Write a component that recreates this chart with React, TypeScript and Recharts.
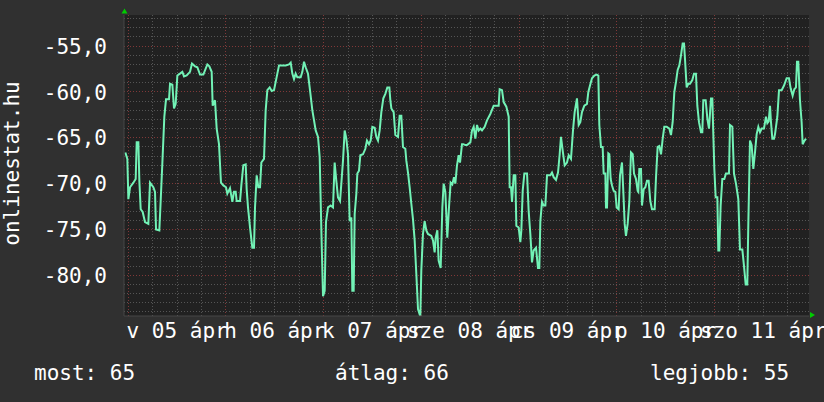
import { LineChart, Line, XAxis, YAxis, CartesianGrid, ReferenceLine } from 'recharts';

// hours since 05 ápr 00:00, signal level (dBm)
const hours = [
  -0.73, -0.24, 0.01, 0.42, 1.24, 1.81, 2.06, 2.47, 2.71, 3.04, 3.53, 4.1, 4.92, 5.33, 6.15, 6.56, 6.81, 7.62, 7.95, 8.36,
  8.85, 9.26, 10.0, 10.25, 10.82, 11.23, 11.64, 12.05, 12.7, 13.28, 13.69, 14.34, 15.16, 15.65, 16.39, 16.96, 17.62, 18.44,
  19.42, 19.91, 20.48, 20.73, 21.3, 21.71, 22.28, 22.77, 23.35, 24.0, 24.33, 24.99, 25.56, 25.97, 26.38, 26.62, 27.45,
  27.77, 28.26, 28.84, 29.08, 29.41, 29.91, 30.47, 30.88, 31.13, 31.54, 31.95, 32.36, 32.69, 33.34, 33.75, 34.16, 34.73,
  35.23, 35.8, 36.21, 36.62, 37.03, 37.85, 38.67, 39.49, 39.9, 40.3, 40.71, 41.12, 41.53, 42.35, 42.76, 43.17, 43.58,
  44.15, 44.64, 45.22, 45.63, 46.04, 46.61, 47.02, 47.43, 47.84, 48.25, 48.57, 49.07, 49.72, 50.29, 50.7, 51.11, 51.52,
  52.02, 52.34, 52.75, 53.16, 53.57, 53.98, 54.39, 54.8, 55.04, 55.37, 55.62, 56.03, 56.27, 56.68, 57.01, 57.66, 58.24,
  58.64, 59.14, 59.55, 59.96, 60.53, 60.94, 61.35, 61.76, 62.17, 62.66, 63.15, 63.64, 64.14, 64.38, 64.63, 65.2, 65.61,
  66.27, 66.67, 67.08, 67.49, 68.06, 68.31, 68.72, 69.13, 69.54, 69.95, 70.36, 70.77, 71.18, 71.75, 71.99, 72.4, 72.81,
  73.22, 73.63, 74.45, 74.86, 75.27, 75.52, 75.93, 76.25, 76.75, 77.16, 77.48, 77.89, 78.38, 78.79, 79.2, 79.61, 80.02,
  80.35, 80.76, 81.17, 81.5, 81.99, 82.32, 82.81, 83.22, 84.04, 84.45, 84.86, 85.27, 85.68, 86.09, 86.5, 86.9, 87.56,
  88.13, 88.95, 89.77, 90.59, 91.0, 91.24, 91.82, 92.23, 92.88, 93.46, 93.7, 94.03, 94.28, 94.69, 95.1, 95.34, 95.92,
  96.32, 96.57, 96.9, 97.31, 97.97, 98.37, 98.78, 99.19, 99.6, 100.17, 100.66, 100.99, 101.24, 101.65, 102.06, 102.47,
  102.88, 103.7, 104.1, 104.51, 105.09, 105.58, 105.99, 106.31, 106.73, 107.22, 107.79, 108.2, 108.77, 109.26, 109.67,
  110.24, 110.66, 111.06, 111.47, 112.05, 112.7, 113.03, 113.44, 113.93, 114.51, 115.08, 115.49, 115.73, 116.14, 116.55,
  116.8, 117.21, 117.37, 117.62, 117.94, 118.19, 118.52, 118.85, 119.26, 119.67, 119.99, 120.48, 120.81, 121.3, 121.63,
  121.96, 122.28, 122.69, 123.1, 123.51, 123.93, 124.25, 124.74, 125.15, 125.31, 125.56, 125.97, 126.21, 126.63, 127.04,
  127.44, 127.85, 128.26, 128.67, 129.33, 129.66, 130.06, 130.47, 130.89, 131.3, 131.7, 132.28, 132.93, 133.34, 133.75,
  134.16, 134.57, 134.98, 135.39, 135.8, 136.21, 136.54, 136.78, 137.19, 137.6, 138.01, 138.58, 138.99, 139.48, 139.81,
  140.22, 140.71, 141.04, 141.28, 141.86, 142.27, 142.68, 143.17, 143.5, 143.74, 143.99, 144.32, 144.73, 144.97, 145.21,
  145.54, 145.95, 146.44, 146.85, 147.59, 147.84, 148.41, 148.82, 149.31, 149.88, 150.29, 150.87, 151.28, 151.69, 152.09,
  152.34, 152.75, 153.16, 153.57, 153.98, 154.39, 154.8, 155.21, 155.62, 156.19, 156.68, 157.01, 157.34, 157.67, 157.91,
  158.24, 158.65, 158.9, 159.47, 159.88, 160.53, 161.11, 161.76, 162.33, 162.74, 163.23, 163.64, 164.05, 164.3, 164.62,
  165.03, 165.44, 165.69, 166.02, 166.51,
];

const level = [
  -66.6, -67.3, -71.7, -70.4, -69.9, -69.5, -65.5, -65.5, -69.7, -72.8, -73.1, -74.2, -74.4, -69.9, -70.4, -70.9, -75.0, -75.1, -71.9, -67.8,
  -62.7, -60.8, -60.8, -59.1, -59.2, -61.8, -61.3, -58.2, -58.0, -57.8, -58.3, -58.2, -57.8, -56.9, -57.2, -57.3, -58.1, -58.1,
  -57.0, -57.2, -57.8, -61.5, -60.9, -64.0, -65.7, -69.9, -70.2, -70.4, -71.1, -70.5, -72.0, -70.9, -70.9, -71.9, -71.9,
  -70.2, -68.0, -67.9, -70.6, -72.6, -74.8, -77.0, -77.0, -72.6, -69.1, -70.4, -70.4, -67.7, -67.3, -62.0, -59.8, -59.5,
  -59.9, -59.8, -58.9, -58.0, -57.1, -57.1, -57.1, -57.0, -56.8, -58.0, -58.6, -58.0, -58.4, -58.4, -57.8, -56.7, -57.3,
  -58.0, -59.8, -62.0, -63.1, -64.2, -64.9, -67.1, -75.1, -82.3, -81.7, -74.2, -72.6, -72.4, -72.6, -67.7, -69.7, -71.5,
  -71.9, -70.0, -67.5, -64.2, -65.1, -66.8, -74.1, -73.7, -81.7, -81.7, -73.3, -71.1, -68.9, -68.6, -66.9, -66.8, -66.2,
  -65.3, -65.7, -65.3, -63.8, -63.9, -64.9, -65.3, -64.2, -62.2, -60.7, -60.2, -59.5, -59.5, -60.9, -61.8, -62.2, -64.7,
  -64.9, -62.6, -62.6, -66.0, -66.2, -67.5, -68.8, -70.4, -72.2, -73.9, -76.2, -79.9, -83.7, -84.5, -79.5, -75.5, -74.1,
  -75.1, -75.5, -75.7, -76.2, -77.5, -75.9, -75.1, -78.4, -79.2, -72.6, -70.0, -70.9, -75.9, -72.6, -69.9, -70.1, -69.3,
  -70.0, -68.0, -66.9, -67.7, -65.7, -65.7, -65.8, -65.8, -65.5, -64.2, -63.8, -65.1, -63.6, -64.2, -64.0, -64.2, -63.8,
  -63.1, -62.4, -61.5, -61.5, -61.5, -59.7, -59.8, -61.1, -61.6, -62.7, -70.4, -70.4, -72.0, -69.1, -69.1, -74.6, -74.8,
  -76.4, -75.1, -70.8, -68.9, -68.9, -73.0, -75.5, -78.6, -77.3, -77.0, -79.2, -79.2, -74.1, -72.0, -72.4, -72.4,
  -69.1, -69.1, -68.8, -69.3, -69.6, -68.8, -66.8, -64.9, -66.4, -68.0, -67.7, -66.9, -67.3, -64.2, -62.2,
  -60.7, -63.6, -63.3, -62.2, -61.5, -61.3, -60.0, -59.3, -58.5, -58.2, -58.1, -58.2, -63.6, -66.0, -66.0,
  -68.9, -68.9, -72.6, -72.6, -66.7, -66.8, -69.5, -70.2, -70.8, -70.9, -72.6, -72.8, -69.1, -67.7, -70.9,
  -74.4, -75.7, -74.4, -72.0, -66.6, -66.8, -68.9, -69.5, -70.8, -70.9, -68.4, -68.4, -72.4, -70.6, -70.4,
  -69.7, -69.7, -71.9, -72.8, -72.8, -69.3, -66.0, -65.9, -66.8, -65.1, -63.8, -63.8, -64.0, -64.7, -63.3,
  -60.0, -58.9, -57.6, -57.1, -56.0, -54.7, -54.7, -56.4, -59.5, -59.1, -59.1, -58.7, -58.0, -58.0, -61.5,
  -63.3, -64.4, -64.4, -60.9, -60.9, -62.9, -64.0, -60.7, -60.7, -64.6, -68.4, -71.5, -71.5, -77.3, -77.3,
  -72.4, -69.5, -69.5, -68.9, -68.9, -63.6, -63.8, -68.9, -70.0, -71.7, -77.2, -77.2, -79.0, -81.0, -81.0,
  -74.4, -65.3, -65.8, -68.4, -66.6, -64.6, -63.8, -64.4, -64.0, -64.0, -62.7, -63.4, -63.2, -61.5, -63.3,
  -65.1, -65.1, -64.6, -62.7, -59.8, -59.8, -59.3, -58.5, -58.5, -59.6, -60.4, -59.7, -59.5, -56.7, -56.7,
  -60.9, -63.3, -65.7, -65.4, -65.1,
];

const dayTicks = [12, 36, 60, 84, 108, 132, 156];
const dayLabels = ['v 05 ápr', 'h 06 ápr', 'k 07 ápr', 'sze 08 ápr', 'cs 09 ápr', 'p 10 ápr', 'szo 11 ápr'];
const levelTicks = [-80, -75, -70, -65, -60, -55];

const majorHours = [0, 24, 48, 72, 96, 120, 144];
const minorHours = [6, 12, 18, 30, 36, 42, 54, 60, 66, 78, 84, 90, 102, 108, 114, 126, 132, 138, 150, 156, 162];
const majorLevels = [-80, -75, -70, -65, -60, -55];
const minorLevels = [-84, -83, -82, -81, -79, -78, -77, -76, -74, -73, -72, -71, -69, -68, -67, -66, -64, -63, -62, -61, -59, -58, -57, -56, -54, -53, -52];

const statMost = 65;
const statAvg = 66;
const statBest = 55;

const data = hours.map((h, i) => ({ h, v: level[i] }));

const FONT = 'DejaVu Sans Mono';
const MINOR = '#555555';
const MAJOR = '#803838';

const YTick = (props: any) => {
  const { x, y, payload } = props;
  return (
    <text x={x} y={y} dy="0.36em" textAnchor="end" fill="#ffffff" fontSize={21} fontFamily={FONT}>
      {payload.value.toFixed(1).replace('.', ',')}
    </text>
  );
};

const XTick = (props: any) => {
  const { x, y, payload } = props;
  return (
    <text x={x} y={y} dy="0.71em" textAnchor="middle" fill="#ffffff" fontSize={21} fontFamily={FONT}>
      {dayLabels[dayTicks.indexOf(payload.value)]}
    </text>
  );
};

export default function App() {
  return (
    <div style={{ position: 'absolute', left: 0, top: 0, width: 824, height: 402, background: '#303030' }}>
      <style>{'.recharts-cartesian-grid line, .recharts-reference-line line { shape-rendering: crispEdges; }'}</style>
      <LineChart width={824} height={402} data={data} margin={{ top: 15, right: 15, bottom: 0, left: 0 }}>
        <CartesianGrid
          fill="#212121"
          stroke={MINOR}
          strokeDasharray="1 2"
          vertical={false}
          horizontalValues={minorLevels}
        />
        <CartesianGrid
          stroke={MAJOR}
          strokeDasharray="1 2"
          vertical={false}
          horizontalValues={majorLevels}
        />
        {minorHours.map((h) => (
          <ReferenceLine key={'m' + h} x={h} stroke={MINOR} strokeDasharray="1 2" zIndex={-90} />
        ))}
        {majorHours.map((h) => (
          <ReferenceLine key={'M' + h} x={h} stroke={MAJOR} strokeDasharray="1 2" zIndex={-80} />
        ))}
        <XAxis
          dataKey="h"
          type="number"
          domain={[-1.06, 167.25]}
          allowDataOverflow
          ticks={dayTicks}
          interval={0}
          height={86}
          tickLine={false}
          tickSize={0}
          tickMargin={7}
          axisLine={{ stroke: '#474747' }}
          tick={<XTick />}
        />
        <YAxis
          type="number"
          domain={[-84.45, -51.6]}
          allowDataOverflow
          ticks={levelTicks}
          interval={0}
          width={124}
          tickLine={false}
          tickSize={0}
          tickMargin={17}
          axisLine={{ stroke: '#474747' }}
          tick={<YTick />}
        />
        <Line
          type="linear"
          dataKey="v"
          stroke="#72f2b6"
          strokeWidth={2}
          dot={false}
          isAnimationActive={false}
        />
      </LineChart>
      <svg width={824} height={402} style={{ position: 'absolute', left: 0, top: 0, pointerEvents: 'none' }}>
        <polygon points="121.5,13.5 127.5,13.5 124.5,8.5" fill="#00cc00" />
        <polygon points="810,312 810,318 815,315" fill="#00cc00" />
        <text x={19} y={163.5} transform="rotate(-90 19 163.5)" textAnchor="middle" fill="#ffffff" fontSize={21} fontFamily={FONT}>
          onlinestat.hu
        </text>
        <text x={34} y={380} fill="#ffffff" fontSize={21} fontFamily={FONT}>most: {statMost}</text>
        <text x={335} y={380} fill="#ffffff" fontSize={21} fontFamily={FONT}>átlag: {statAvg}</text>
        <text x={650} y={380} fill="#ffffff" fontSize={21} fontFamily={FONT}>legjobb: {statBest}</text>
      </svg>
    </div>
  );
}
